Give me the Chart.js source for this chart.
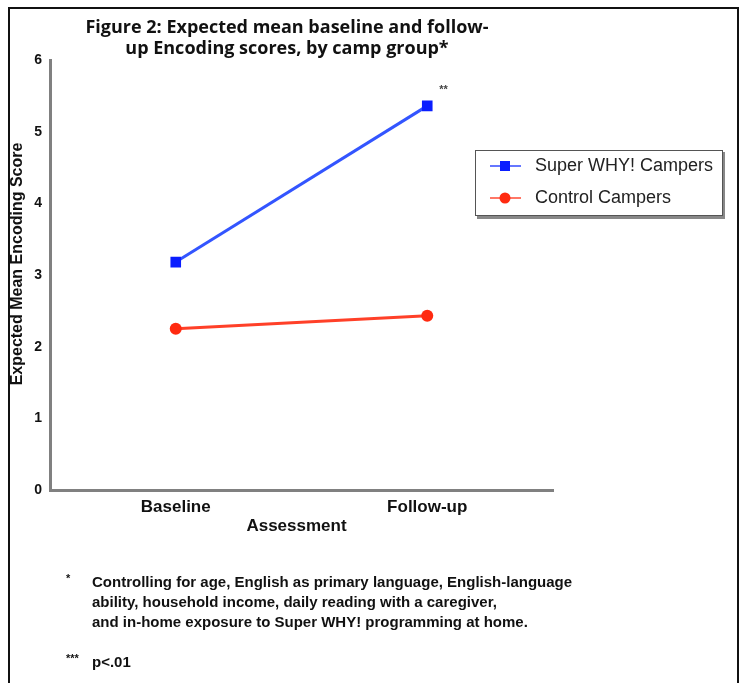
<html>
<head>
  <script src="https://cdn.jsdelivr.net/npm/chart.js@4.4.1/dist/chart.umd.min.js"></script>
  <style>
    body { margin:0; background:#fff; }
    #wrap { position:relative; width:739px; height:683px; }
    #frame { position:absolute; left:8px; top:7px; width:727px; height:700px;
             border-left:2px solid #111; border-top:2px solid #111; border-right:2px solid #111; }
    #title { position:absolute; left:40px; width:494px; top:16px; text-align:center;
             font-family:'Open Sans'; font-weight:bold; font-size:18px; line-height:21px; color:#111; letter-spacing:0; }
    .note { position:absolute; font-family:'Liberation Sans'; font-weight:bold; font-size:15px; color:#111; line-height:20px; }
    canvas { position:absolute; left:0; top:0; }
  </style>
</head>
<body>
<div id="wrap">
  <canvas id="chart" width="739" height="683"></canvas>
  <div id="frame"></div>
  <div id="title">Figure 2: Expected mean baseline and follow-<br>up Encoding scores, by camp group*</div>
  <div class="note" style="left:66px; top:568px; font-size:11px;">*</div>
  <div class="note" style="left:92px; top:572px;">Controlling for age, English as primary language, English-language<br>ability, household income, daily reading with a caregiver,<br>and in-home exposure to Super WHY! programming at home.</div>
  <div class="note" style="left:66px; top:648px; font-size:11px;">***</div>
  <div class="note" style="left:92px; top:652px;">p&lt;.01</div>
</div>

<script>
  var labels = ['Baseline', 'Follow-up'];
  var superWhy = [3.18, 5.36];
  var control = [2.25, 2.43];
  var seriesNames = ['Super WHY! Campers', 'Control Campers'];
  var yTicks = [0, 1, 2, 3, 4, 5, 6];
  var xTitle = 'Assessment';
  var yTitle = 'Expected Mean Encoding Score';

  // legend box, axis titles and significance stars
  var extras = {
    id: 'extras',
    afterDraw: function(chart) {
      var ctx = chart.ctx;
      var area = chart.chartArea;
      ctx.save();
      // legend shadow + box
      ctx.fillStyle = '#888';
      ctx.fillRect(477, 152, 248, 67);
      ctx.fillStyle = '#fff';
      ctx.fillRect(475, 150, 247, 65);
      ctx.strokeStyle = '#555';
      ctx.lineWidth = 1;
      ctx.strokeRect(475.5, 150.5, 247, 65);
      chart.data.datasets.forEach(function(ds, i) {
        var y = 166 + i * 32;
        ctx.strokeStyle = ds.legendLine;
        ctx.lineWidth = 2;
        ctx.beginPath(); ctx.moveTo(490, y); ctx.lineTo(521, y); ctx.stroke();
        ctx.fillStyle = ds.pointBackgroundColor;
        if (ds.pointStyle === 'rect') ctx.fillRect(500, y - 5, 10, 10);
        else { ctx.beginPath(); ctx.arc(505, y, 5.5, 0, Math.PI * 2); ctx.fill(); }
        ctx.fillStyle = '#222';
        ctx.font = '18px "Liberation Sans"';
        ctx.textBaseline = 'middle';
        ctx.fillText(ds.label, 535, y);
      });
      // axis titles
      ctx.fillStyle = '#111';
      ctx.font = 'bold 17px "Liberation Sans"';
      ctx.textAlign = 'center';
      ctx.textBaseline = 'middle';
      ctx.fillText(xTitle, (area.left + area.right) / 2 - 5, 526);
      ctx.save();
      ctx.translate(18, 264);
      ctx.rotate(-Math.PI / 2);
      ctx.font = 'bold 16px "Liberation Sans"';
      ctx.fillText(yTitle, 0, 0);
      ctx.restore();
      // ** next to follow-up point
      var pt = chart.getDatasetMeta(0).data[1];
      ctx.fillStyle = '#444';
      ctx.font = 'bold 11px "Liberation Sans"';
      ctx.textAlign = 'left';
      ctx.fillText('**', pt.x + 12, pt.y - 16);
      ctx.restore();
    }
  };

  new Chart(document.getElementById('chart'), {
    type: 'line',
    data: {
      labels: labels,
      datasets: [{
        label: seriesNames[0],
        data: superWhy,
        borderColor: '#3355ff',
        legendLine: '#6677ff',
        borderWidth: 3,
        pointStyle: 'rect',
        pointRadius: 7.5,
        pointBackgroundColor: '#0a1eff',
        pointBorderWidth: 0,
        fill: false
      }, {
        label: seriesNames[1],
        data: control,
        borderColor: '#ff4028',
        legendLine: '#ff7766',
        borderWidth: 3,
        pointStyle: 'circle',
        pointRadius: 6,
        pointBackgroundColor: '#ff2a10',
        pointBorderWidth: 0,
        fill: false
      }]
    },
    options: {
      responsive: false,
      animation: false,
      layout: { padding: { left: 0, right: 186, top: 60, bottom: 0 } },
      plugins: { legend: { display: false }, title: { display: false }, tooltip: { enabled: false } },
      scales: {
        x: {
          offset: true,
          grid: { display: false, drawTicks: false },
          border: { color: '#808080', width: 3 },
          ticks: { color: '#111', padding: 7, font: { family: 'Liberation Sans', weight: 'bold', size: 17 } },
          afterFit: function(s) { s.height = 193; }
        },
        y: {
          min: 0, max: 6,
          afterBuildTicks: function(s) { s.ticks = yTicks.map(function(v) { return { value: v }; }); },
          grid: { display: false, drawTicks: false },
          border: { color: '#808080', width: 3 },
          ticks: { color: '#111', padding: 8, font: { family: 'Liberation Sans', weight: 'bold', size: 14 } },
          afterFit: function(s) { s.width = 50; }
        }
      }
    },
    plugins: [extras]
  });
</script>
</body>
</html>
